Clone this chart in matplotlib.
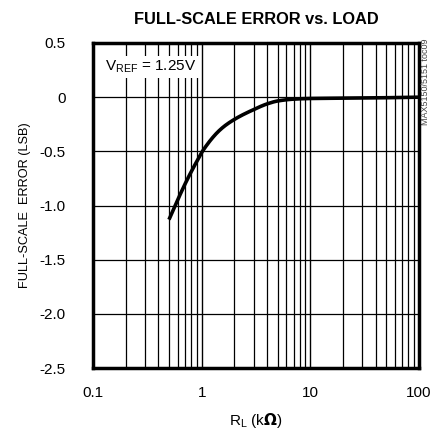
import matplotlib
matplotlib.use("Agg")
import matplotlib.pyplot as plt
from matplotlib import font_manager
import numpy as np

fams = [f.name for f in font_manager.fontManager.ttflist]
fam = "Liberation Sans Narrow" if "Liberation Sans Narrow" in fams else "Liberation Sans"
plt.rcParams['font.family'] = [fam, 'DejaVu Sans']

r_load = [0.5, 0.6, 0.7, 0.8, 0.9, 1.0, 1.5, 2.0, 3.0, 4.0, 5.0, 7.0, 10.0, 20.0, 50.0, 100.0]
fs_error = [-1.13, -0.95, -0.805, -0.689, -0.594, -0.51, -0.295, -0.205, -0.115, -0.062, -0.035,
            -0.018, -0.012, -0.009, -0.005, 0.0]
x_ticks = [0.1, 1, 10, 100]
x_labels = ["0.1", "1", "10", "100"]
y_ticks = [0.5, 0, -0.5, -1.0, -1.5, -2.0, -2.5]
y_labels = ["0.5", "0", "-0.5", "-1.0", "-1.5", "-2.0", "-2.5"]

fig = plt.figure(figsize=(4.31, 4.30), dpi=100)
ax = fig.add_axes([0.2158, 0.144, 0.7564, 0.756])
ax.set_xscale('log')
ax.set_xlim(0.1, 100)
ax.set_ylim(-2.5, 0.5)

# grid lines
for dec in [0.1, 1, 10]:
    for m in range(2, 10):
        ax.axvline(dec * m, color='black', lw=0.9, zorder=1)
for xv in [1, 10]:
    ax.axvline(xv, color='black', lw=1.0, zorder=1)
for yv in y_ticks:
    ax.axhline(yv, color='black', lw=0.9, zorder=1)

# smooth monotone curve through the read points (in log-x space)
def pchip(x, y, xn):
    x = np.asarray(x, float); y = np.asarray(y, float)
    h = np.diff(x); d = np.diff(y) / h
    m = np.zeros_like(y)
    for i in range(1, len(y) - 1):
        if d[i-1] * d[i] > 0:
            w1 = 2*h[i] + h[i-1]; w2 = h[i] + 2*h[i-1]
            m[i] = (w1 + w2) / (w1/d[i-1] + w2/d[i])
    m[0] = d[0]; m[-1] = d[-1]
    out = np.empty_like(xn)
    for j, xv in enumerate(xn):
        i = int(np.clip(np.searchsorted(x, xv) - 1, 0, len(x) - 2))
        t = (xv - x[i]) / h[i]
        h00 = 2*t**3 - 3*t**2 + 1; h10 = t**3 - 2*t**2 + t
        h01 = -2*t**3 + 3*t**2; h11 = t**3 - t**2
        out[j] = h00*y[i] + h10*h[i]*m[i] + h01*y[i+1] + h11*h[i]*m[i+1]
    return out

lx = np.log10(r_load)
xs = np.linspace(lx[0], lx[-1], 400)
ys = pchip(lx, fs_error, xs)
ax.plot(10**xs, ys, color='black', lw=2.6, zorder=3, solid_capstyle='butt')

ax.set_xticks(x_ticks)
ax.set_xticklabels(x_labels)
ax.set_yticks(y_ticks)
ax.set_yticklabels(y_labels)
ax.minorticks_off()
ax.tick_params(length=0, labelsize=11)
ax.tick_params(axis='x', pad=13)
ax.tick_params(axis='y', pad=19.5)
for lab in ax.get_yticklabels():
    lab.set_horizontalalignment('right')
for s in ax.spines.values():
    s.set_linewidth(2.5)
    s.set_zorder(4)

ax.set_xlabel(r"R$_\mathregular{L}$ (k$\mathbf{\Omega}$)", fontsize=11, labelpad=8)
ax.set_ylabel("FULL-SCALE  ERROR (LSB)", fontsize=9.2, labelpad=6)
ax.set_title("FULL-SCALE ERROR vs. LOAD", fontsize=11.8, fontweight='bold', pad=14)

ax.text(0.13, 0.28, r"V$_\mathregular{REF}$ = 1.25V", fontsize=11, ha='left', va='center',
        bbox=dict(facecolor='white', edgecolor='none', pad=2), zorder=5)

fig.text(0.988, 0.81, "MAX5150/5151 toc09", rotation=90, fontsize=6.5, color='#444444',
         ha='center', va='center')

fig.savefig("out.png", dpi=100)
